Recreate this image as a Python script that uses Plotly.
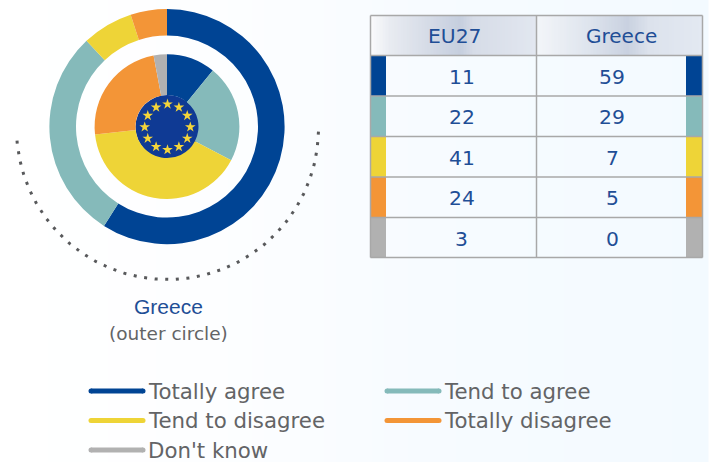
import plotly.graph_objects as go
import math

categories = ["Totally agree", "Tend to agree", "Tend to disagree", "Totally disagree", "Don't know"]
eu27_values = [11, 22, 41, 24, 3]
greece_values = [59, 29, 7, 5, 0]
colors = ["#004494", "#85baba", "#eed437", "#f39537", "#b1b1b1"]
table_headers = ["EU27", "Greece"]
W, H = 709, 462
CX, CY = 167, 126.6
TITLE_BLUE = "#1f4e96"
GREY = "#636466"


def hex2rgb(c):
    return [int(c[i:i + 2], 16) for i in (1, 3, 5)]


def mix(a, b, t):
    A, B = hex2rgb(a), hex2rgb(b)
    return "rgb(%d,%d,%d)" % tuple(round(A[i] + (B[i] - A[i]) * t) for i in range(3))


def domain(r):
    return dict(x=[(CX - r) / W, (CX + r) / W], y=[1 - (CY + r) / H, 1 - (CY - r) / H])


shapes = []


def rect(x0, y0, x1, y1, fill, layer="below", line=None):
    shapes.append(dict(type="rect", xref="x", yref="y", x0=x0, y0=y0, x1=x1, y1=y1,
                       fillcolor=fill, layer=layer,
                       line=line or dict(width=0)))


def gradient(x0, x1, y0, y1, stops, step):
    x = x0
    while x < x1:
        t = (x + step / 2 - x0) / (x1 - x0)
        for (p0, c0), (p1, c1) in zip(stops, stops[1:]):
            if p0 <= t <= p1:
                rect(x, y0, min(x + step + 0.5, x1), y1, mix(c0, c1, (t - p0) / (p1 - p0)))
                break
        x += step


# page background
gradient(0, W, 0, H, [(0, "#ffffff"), (0.3, "#fdfeff"), (0.6, "#f7fbff"), (1, "#f3faff")], 12)

# table
TX0, TXM, TX1 = 370.5, 536.5, 702.5
ROWS_Y = [15.5, 55.5, 96, 136.5, 177, 217.5, 257.5]
gradient(TX0, TXM, ROWS_Y[0], ROWS_Y[1],
         [(0, "#fafbfc"), (0.12, "#e8ebf1"), (0.54, "#c5cede"), (0.62, "#d6dce7"), (1, "#e2e7f0")], 3)
gradient(TXM, TX1, ROWS_Y[0], ROWS_Y[1],
         [(0, "#f3f6f9"), (0.3, "#dfe5ee"), (0.55, "#c9d1e0"), (0.68, "#dce2ec"), (1, "#e3e9f2")], 3)
for i, c in enumerate(colors):
    rect(TX0, ROWS_Y[i + 1], 386, ROWS_Y[i + 2], c)
    rect(686, ROWS_Y[i + 1], TX1, ROWS_Y[i + 2], c)
table_line = dict(color="#a8a8a8", width=1.5)
for y in ROWS_Y:
    shapes.append(dict(type="line", xref="x", yref="y", x0=TX0, x1=TX1, y0=y, y1=y, line=table_line, layer="below"))
for x in (TX0, TXM, TX1):
    shapes.append(dict(type="line", xref="x", yref="y", x0=x, x1=x, y0=ROWS_Y[0], y1=ROWS_Y[-1], line=table_line, layer="below"))

# EU flag disc
FX, FY, FR = 167.5, 127, 32
shapes.append(dict(type="circle", xref="x", yref="y", x0=FX - FR, x1=FX + FR, y0=FY - FR, y1=FY + FR,
                   fillcolor="#0f3a94", line=dict(width=0), layer="below"))

fig = go.Figure()

# dotted arc
AX, AY, AR = 167.5, 128.5, 151
arc_deg = [1.2 + 0.5 * i for i in range(0, 352)]
arc_x = [AX + AR * math.cos(math.radians(a)) for a in arc_deg]
arc_y = [AY + AR * math.sin(math.radians(a)) for a in arc_deg]
fig.add_trace(go.Scatter(x=arc_x, y=arc_y, mode="lines", hoverinfo="skip", showlegend=False,
                         line=dict(color="#58595b", width=3, dash="3px,7.6px")))

# flag stars
star_x = [FX + 22.8 * math.sin(math.radians(30 * i)) for i in range(12)]
star_y = [FY - 22.8 * math.cos(math.radians(30 * i)) for i in range(12)]
fig.add_trace(go.Scatter(x=star_x, y=star_y, mode="markers", hoverinfo="skip", showlegend=False,
                         marker=dict(symbol="star", size=8, color="#f4d53a", line=dict(width=0))))

# legend keys
legend_x = [89, 385, 89, 385, 89]
legend_y = [391, 391, 420.5, 420.5, 450]
for n, c, lx, ly in zip(categories, colors, legend_x, legend_y):
    fig.add_trace(go.Scatter(x=[lx + 2, lx + 54], y=[ly, ly], mode="lines+markers", hoverinfo="skip",
                             showlegend=False, line=dict(color=c, width=5),
                             marker=dict(size=5, color=c, line=dict(width=0))))

fig.add_trace(go.Pie(values=greece_values, labels=categories, sort=False, direction="clockwise",
                     rotation=0, hole=91 / 117.6, domain=domain(117.6), textinfo="none",
                     marker=dict(colors=colors, line=dict(width=0)), showlegend=False))
fig.add_trace(go.Pie(values=eu27_values, labels=categories, sort=False, direction="clockwise",
                     rotation=0, hole=0.435, domain=domain(72.4), textinfo="none",
                     marker=dict(colors=colors, line=dict(width=0)), showlegend=False))

annotations = []


def text(x, y, s, size, color, anchor="center", family="DejaVu Sans"):
    annotations.append(dict(x=x, y=y, xref="x", yref="y", text=s, showarrow=False, xanchor=anchor,
                            yanchor="middle", borderpad=0, borderwidth=0,
                            font=dict(family=family, size=size, color=color)))


text(454, 36, table_headers[0], 20.3, TITLE_BLUE)
text(621.5, 36, table_headers[1], 20, TITLE_BLUE)
for i in range(5):
    ym = (ROWS_Y[i + 1] + ROWS_Y[i + 2]) / 2 + 1
    text(461.5, ym, str(eu27_values[i]), 20.3, TITLE_BLUE)
    text(612, ym, str(greece_values[i]), 20.3, TITLE_BLUE)

text(168, 306, "Greece", 21, TITLE_BLUE, family="Liberation Sans")
text(168, 333, "(outer circle)", 18.5, GREY)
for n, lx, ly in zip(categories, legend_x, legend_y):
    text(lx + 59, ly, n, 21.3, GREY, anchor="left")

fig.update_layout(
    width=W, height=H, margin=dict(l=0, r=0, t=0, b=0), showlegend=False,
    paper_bgcolor="#ffffff", plot_bgcolor="rgba(0,0,0,0)",
    xaxis=dict(range=[0, W], visible=False, domain=[0, 1], fixedrange=True),
    yaxis=dict(range=[H, 0], visible=False, domain=[0, 1], fixedrange=True),
    shapes=shapes, annotations=annotations, hovermode=False,
)
fig.write_html("out.html", config=dict(displayModeBar=False),
               post_script="document.body.style.margin='0';document.body.style.overflow='hidden';")
